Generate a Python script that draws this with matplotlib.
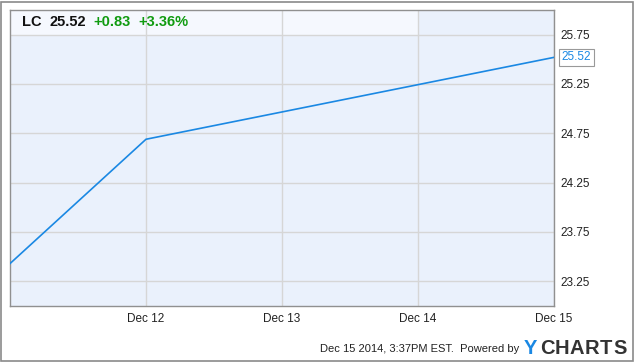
import matplotlib.pyplot as plt
import matplotlib.dates as mdates
from matplotlib.patches import Rectangle
import numpy as np

plt.rcParams['font.family'] = ['Liberation Sans', 'DejaVu Sans']

dates = np.array(['2014-12-11', '2014-12-12', '2014-12-15'], dtype='datetime64[D]')
prices = [23.43, 24.69, 25.52]
tick_dates = np.array(['2014-12-12', '2014-12-13', '2014-12-14', '2014-12-15'], dtype='datetime64[D]')
tick_labels = ['Dec 12', 'Dec 13', 'Dec 14', 'Dec 15']
y_ticks = [23.25, 23.75, 24.25, 24.75, 25.25, 25.75]

W, H = 635, 362
fig = plt.figure(figsize=(W / 100, H / 100), dpi=100)
fig.patches.append(Rectangle((1 / W, 1 / H), 632 / W, 359 / H, transform=fig.transFigure,
                             fill=False, ec='#8a8a8a', lw=1.2))

ax = fig.add_axes([10 / W, (H - 306) / H, 544 / W, 296 / H])
ax.set_facecolor('#eaf1fc')

x0 = mdates.date2num(np.datetime64('2014-12-11'))
x1 = mdates.date2num(np.datetime64('2014-12-15'))
xd = mdates.date2num(dates)

# lighter header band
ax.add_patch(Rectangle((x0, 25.75), mdates.date2num(np.datetime64('2014-12-14')) - x0, 0.25,
                       fc='#f5f8fe', ec='none', zorder=0.3))

ax.plot(xd, prices, color='#1a88e3', lw=1.2, zorder=3)

ax.set_xlim(x0, x1)
ax.set_ylim(23.0, 26.0)
ax.set_xticks(mdates.date2num(tick_dates))
ax.set_xticklabels(tick_labels)
ax.set_yticks(y_ticks)
ax.set_yticklabels([f'{v:.2f}' for v in y_ticks])
ax.yaxis.tick_right()
ax.tick_params(axis='both', length=0, labelsize=8.5, colors='#222222')
ax.tick_params(axis='y', pad=4.5)
ax.tick_params(axis='x', pad=5)
for lab in ax.get_yticklabels():
    lab.set_horizontalalignment('left')
ax.grid(True, color='#d6d6d6', lw=1)
ax.set_axisbelow(True)
for s in ax.spines.values():
    s.set_color('#909090')
    s.set_linewidth(1)

ax.annotate(f'{prices[-1]:.2f}', xy=(x1, prices[-1]), xytext=(5.5, 0), textcoords='offset points',
            ha='left', va='center', fontsize=8.5, color='#1a88e3', annotation_clip=False,
            bbox=dict(boxstyle='square,pad=0.2', fc='white', ec='#999999', lw=0.8))

# header
hy = 1 - 22.5 / H
fig.text(22 / W, hy, 'LC', fontsize=10.5, fontweight='bold', color='#111111', va='center')
fig.text(49 / W, hy, '25.52', fontsize=10.5, fontweight='bold', color='#111111', va='center')
fig.text(93 / W, hy, '+0.83', fontsize=10.5, fontweight='bold', color='#109b10', va='center')
fig.text(138 / W, hy, '+3.36%', fontsize=10.5, fontweight='bold', color='#109b10', va='center')

# footer
fy = 1 - 349 / H
fig.text(519 / W, fy, 'Dec 15 2014, 3:37PM EST.  Powered by', fontsize=8, color='#222222',
         ha='right', va='center')
fig.text(524 / W, fy, 'Y', fontsize=14.5, fontweight='bold', color='#1a88e3', va='center')
logo_x = 540
for ch, w in zip('CHARTS', [15, 15, 15, 15, 13.5, 14]):
    fig.text(logo_x / W, fy, ch, fontsize=14.5, fontweight='bold', color='#333333', va='center')
    logo_x += w

fig.savefig('out.png', dpi=100)
